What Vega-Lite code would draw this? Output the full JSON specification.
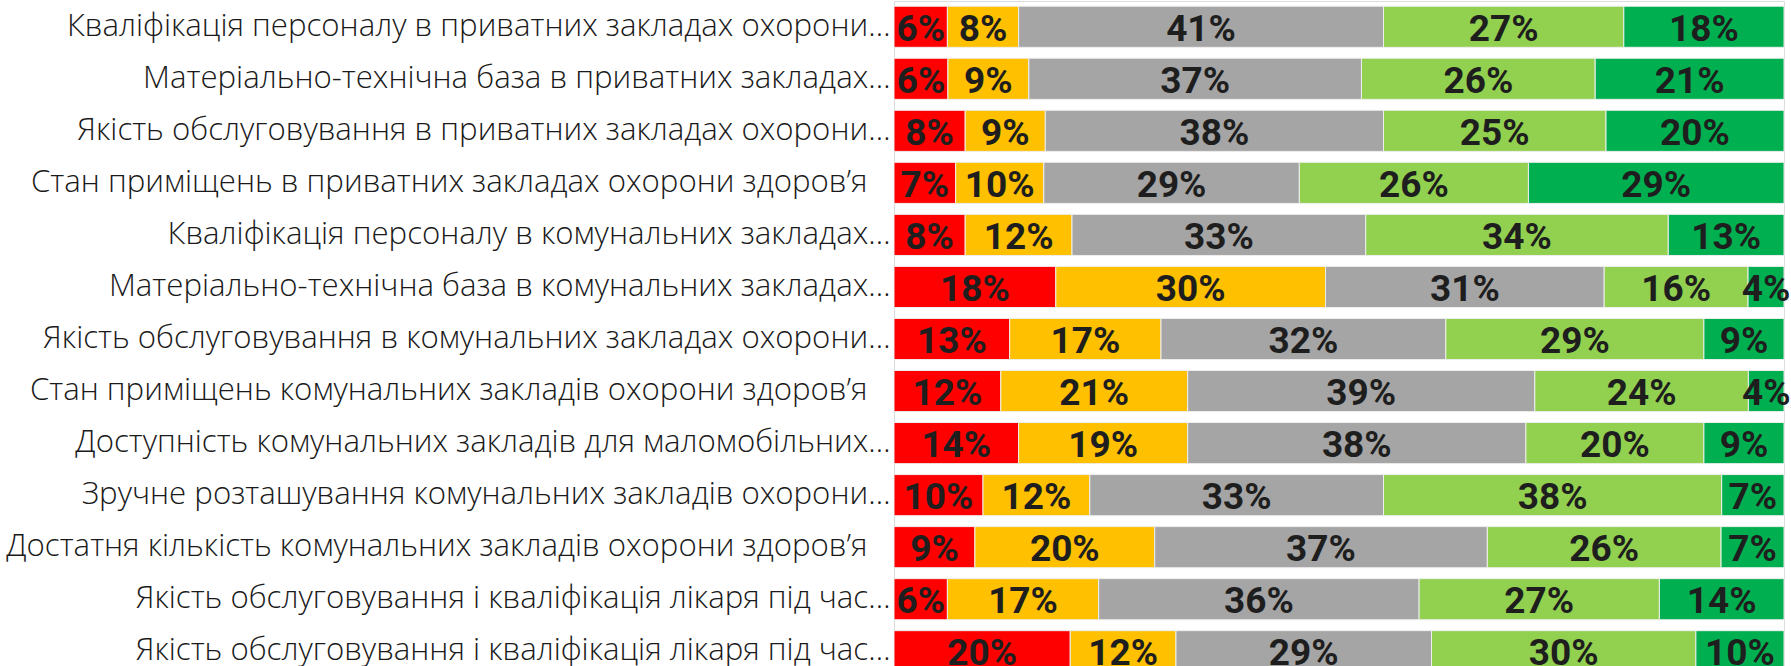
{
  "$schema": "https://vega.github.io/schema/vega-lite/v6.json",
  "autosize": "none",
  "padding": {"left": 894, "top": 1, "right": 7, "bottom": 0},
  "width": 890,
  "height": 676,
  "background": "white",
  "data": {
    "values": [
      {"q": "Кваліфікація персоналу в приватних закладах охорони…", "a": 0.06, "b": 0.08, "c": 0.41, "d": 0.27, "e": 0.18},
      {"q": "Матеріально-технічна база в приватних закладах…", "a": 0.06, "b": 0.09, "c": 0.37, "d": 0.26, "e": 0.21},
      {"q": "Якість обслуговування в приватних закладах охорони…", "a": 0.08, "b": 0.09, "c": 0.38, "d": 0.25, "e": 0.20},
      {"q": "Стан приміщень в приватних закладах охорони здоров’я\u2800", "a": 0.07, "b": 0.10, "c": 0.29, "d": 0.26, "e": 0.29},
      {"q": "Кваліфікація персоналу в комунальних закладах…", "a": 0.08, "b": 0.12, "c": 0.33, "d": 0.34, "e": 0.13},
      {"q": "Матеріально-технічна база в комунальних закладах…", "a": 0.18, "b": 0.30, "c": 0.31, "d": 0.16, "e": 0.04},
      {"q": "Якість обслуговування в комунальних закладах охорони…", "a": 0.13, "b": 0.17, "c": 0.32, "d": 0.29, "e": 0.09},
      {"q": "Стан приміщень комунальних закладів охорони здоров’я\u2800", "a": 0.12, "b": 0.21, "c": 0.39, "d": 0.24, "e": 0.04},
      {"q": "Доступність комунальних закладів для маломобільних…", "a": 0.14, "b": 0.19, "c": 0.38, "d": 0.20, "e": 0.09},
      {"q": "Зручне розташування комунальних закладів охорони…", "a": 0.10, "b": 0.12, "c": 0.33, "d": 0.38, "e": 0.07},
      {"q": "Достатня кількість комунальних закладів охорони здоров’я\u2800", "a": 0.09, "b": 0.20, "c": 0.37, "d": 0.26, "e": 0.07},
      {"q": "Якість обслуговування і кваліфікація лікаря під час…", "a": 0.06, "b": 0.17, "c": 0.36, "d": 0.27, "e": 0.14},
      {"q": "Якість обслуговування і кваліфікація лікаря під час…\u200b", "a": 0.20, "b": 0.12, "c": 0.29, "d": 0.30, "e": 0.10}
    ]
  },
  "transform": [{"fold": ["a", "b", "c", "d", "e"], "as": ["k", "v"]}],
  "encoding": {
    "y": {
      "field": "q",
      "type": "nominal",
      "sort": null,
      "scale": {"paddingInner": 0.21, "paddingOuter": 0.1},
      "axis": {
        "title": null,
        "ticks": false,
        "domain": true,
        "domainColor": "#d9d9d9",
        "domainWidth": 1,
        "labelFont": "Open Sans",
        "labelFontWeight": 300,
        "labelFontSize": 31.2,
        "labelColor": "#1a1a1a",
        "labelLimit": 0,
        "labelPadding": 4
      }
    }
  },
  "layer": [
    {
      "mark": {"type": "bar", "stroke": "#eeeeee", "strokeWidth": 1},
      "encoding": {
        "x": {"field": "v", "type": "quantitative", "stack": "normalize", "axis": null, "scale": {"nice": false}},
        "color": {
          "field": "k",
          "type": "nominal",
          "legend": null,
          "scale": {"domain": ["a", "b", "c", "d", "e"], "range": ["#ff0000", "#ffc000", "#a5a5a5", "#92d050", "#00b050"]}
        },
        "order": {"field": "k"}
      }
    },
    {
      "mark": {"type": "text", "font": "Roboto", "fontWeight": "bold", "fontSize": 37, "color": "#1e1e1e", "baseline": "middle", "align": "center", "dy": 3},
      "encoding": {
        "x": {"field": "v", "type": "quantitative", "stack": "normalize", "bandPosition": 0.5},
        "text": {"field": "v", "type": "quantitative", "format": ".0%"},
        "detail": {"field": "k"},
        "order": {"field": "k"}
      }
    }
  ]
}
